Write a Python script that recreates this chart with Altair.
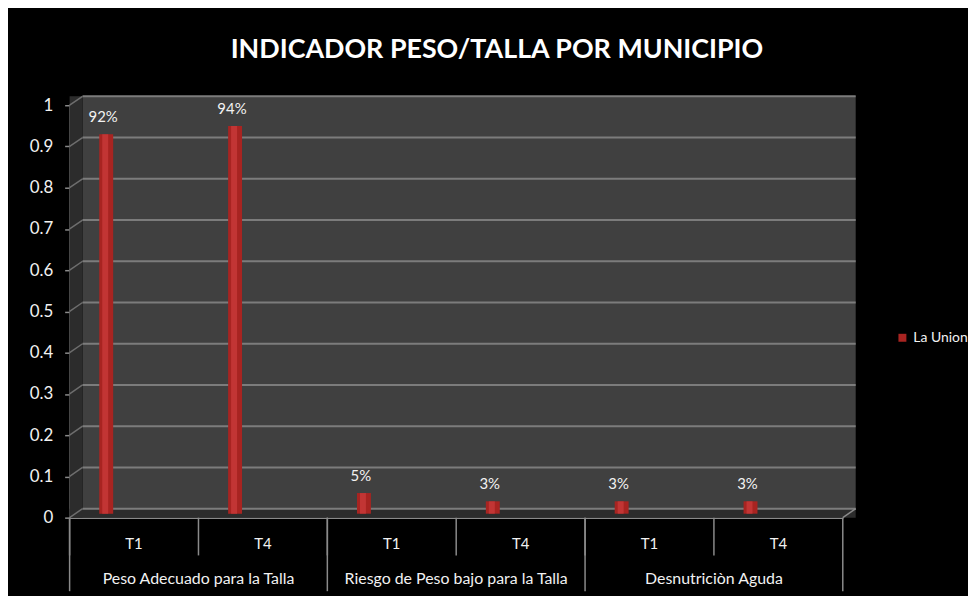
import altair as alt
import pandas as pd

# ---------------- data ----------------
groups = ["Peso Adecuado para la Talla", "Riesgo de Peso bajo para la Talla", "Desnutriciòn Aguda"]
periods = ["T1", "T4"]
values = [0.92, 0.94, 0.05, 0.03, 0.03, 0.03]
series_name = "La Union"
grid_values = [0.0, 0.1, 0.2, 0.3, 0.4, 0.5, 0.6, 0.7, 0.8, 0.9, 1.0]
title_text = "INDICADOR PESO/TALLA POR MUNICIPIO"

rows = []
for gi, g in enumerate(groups):
    for pi, p in enumerate(periods):
        rows.append({"key": f"{g}|{p}", "group": g, "period": p,
                     "value": values[gi * len(periods) + pi], "series": series_name})
df = pd.DataFrame(rows)
keys = list(df["key"])
grp_df = pd.DataFrame({"group": groups,
                       "first": [f"{g}|{periods[0]}" for g in groups],
                       "last": [f"{g}|{periods[-1]}" for g in groups]})
grid_df = pd.DataFrame({"v": grid_values})

# ---------------- style ----------------
FONT = "Liberation Sans Narrow, Lato, sans-serif"
W, H = 778, 415
DX, DY = 13, -9          # depth of the 3D box
LINE = "#8a8a8a"
TEXT = "#f2f2f2"

xscale = alt.Scale(domain=keys, paddingInner=0, paddingOuter=0)
yscale = alt.Scale(domain=[0, 1], nice=False, zero=True)

xaxis = alt.Axis(title=None, ticks=False, tickSize=0, domainColor=LINE, domainWidth=1.5,
                 labelExpr="split(datum.label, '|')[1]", labelColor=TEXT,
                 labelFont=FONT, labelFontSize=15, labelPadding=26,
                 labelBaseline="middle", labelAngle=0)
yaxis = alt.Axis(title=None, values=grid_values, format="~g", grid=False,
                 tickSize=5, tickColor=LINE, tickWidth=1.5, domainColor=LINE,
                 domainWidth=1.5, labelColor=TEXT, labelFont=FONT,
                 labelFontSize=17, labelPadding=12)

X = lambda f, bp=0.5: alt.X(f, type="nominal", scale=xscale, axis=xaxis, bandPosition=bp)
Yf = lambda f: alt.Y(f, type="quantitative", scale=yscale, axis=yaxis)
Yd = lambda d: alt.Y(datum=d, type="quantitative", scale=yscale, axis=yaxis)

one = pd.DataFrame({"a": [0]})

# back wall
wall = alt.Chart(one).mark_rect(color="#404040", yOffset=DY, y2Offset=DY).encode(
    x=alt.value(DX), x2=alt.value(W + DX), y=Yd(1), y2=alt.Y2(datum=0))
# left side wall
side = alt.Chart(one).mark_rect(color="#2c2c2c", yOffset=DY).encode(
    x=alt.value(0), x2=alt.value(DX), y=Yd(1), y2=alt.Y2(datum=0))
# floor
floor = alt.Chart(one).mark_rect(color="#2c2c2c", yOffset=DY).encode(
    x=alt.value(0), x2=alt.value(W + DX), y=Yd(0), y2=alt.Y2(datum=0))
floor_edge = alt.Chart(one).mark_rule(color=LINE, strokeWidth=1.5, y2Offset=DY).encode(
    x=alt.value(W), x2=alt.value(W + DX), y=Yd(0), y2=alt.Y2(datum=0))

grid = alt.Chart(grid_df).mark_rule(color="#7c7c7c", strokeWidth=2, yOffset=DY).encode(
    x=alt.value(DX), x2=alt.value(W + DX), y=Yf("v"))
slant = alt.Chart(grid_df).mark_rule(color="#6e6e6e", strokeWidth=1.5, y2Offset=DY).encode(
    x=alt.value(0), x2=alt.value(DX), y=Yf("v"), y2=alt.Y2("v"))

bars = alt.Chart(df).mark_bar(size=14, xOffset=-28, x2Offset=-28, yOffset=-4, y2Offset=-4).encode(
    x=X("key"), y=Yf("value"), y2=alt.Y2(datum=0),
    color=alt.Color("series:N", scale=alt.Scale(range=["#a82421"]),
                    legend=alt.Legend(title=None, orient="none", legendX=831, legendY=227,
                                      symbolType="square", symbolSize=64, symbolStrokeWidth=0,
                                      labelColor=TEXT, labelFont=FONT, labelFontSize=14,
                                      padding=0, labelOffset=4)))
shine = alt.Chart(df).mark_bar(size=6, xOffset=-29, x2Offset=-29, yOffset=-4, y2Offset=-4,
                               color="#c8393a", opacity=0.8).encode(
    x=X("key"), y=Yf("value"), y2=alt.Y2(datum=0))

labels = alt.Chart(df).mark_text(dy=-21, font=FONT, fontSize=15, color=TEXT,
                                 baseline="middle").encode(
    x=X("key", 0.26), y=Yf("value"), text=alt.Text("value:Q", format=".0%"))

# category separators (short) and group separators (long)
cat_seps = alt.Chart(df).mark_rule(color=LINE, strokeWidth=1.5).encode(
    x=X("key", 0), y=alt.value(H), y2=alt.value(H + 38))
seps = alt.Chart(grp_df).mark_rule(color=LINE, strokeWidth=1.5).encode(
    x=X("first", 0), y=alt.value(H), y2=alt.value(H + 74))
seps_end = alt.Chart(grp_df.tail(1)).mark_rule(color=LINE, strokeWidth=1.5).encode(
    x=X("last", 1), y=alt.value(H), y2=alt.value(H + 74))
grp_labels = alt.Chart(grp_df).mark_text(font=FONT, fontSize=16, color=TEXT,
                                         baseline="middle").encode(
    x=X("first", 1), y=alt.value(H + 62), text="group:N")

chart = alt.layer(wall, side, floor, grid, slant, floor_edge, bars, shine, labels,
                  cat_seps, seps, seps_end, grp_labels).properties(
    width=W, height=H, background="black",
    padding={"left": 62, "top": 96, "right": 126, "bottom": 77},
    autosize=alt.AutoSizeParams(type="none"),
    title=alt.TitleParams(title_text, font=FONT, fontSize=27, fontWeight="bold",
                          color="white", anchor="middle", dx=41, offset=32),
).configure_view(stroke=None)

chart.save("out.html", embed_options={"renderer": "svg", "actions": False})
